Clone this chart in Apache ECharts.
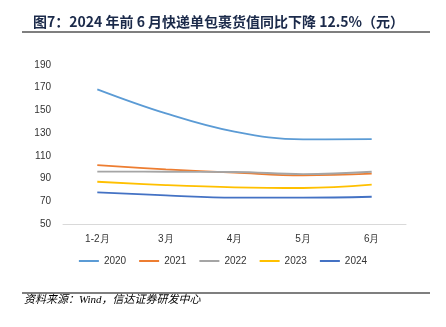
<!DOCTYPE html>
<html><head><meta charset="utf-8">
<script src="https://cdn.jsdelivr.net/npm/echarts@6/dist/echarts.min.js"></script>
<style>html,body{margin:0;padding:0;background:#fff}#c{width:446px;height:327px}</style>
</head><body><div id="c"></div>
<script>
const categories = ['1-2月','3月','4月','5月','6月'];
const yTicks = [50,70,90,110,130,150,170,190];
const s2020 = [168.6,147.4,131.3,124.5,124.8];
const s2021 = [101.9,98.1,95.2,92.8,94.3];
const s2022 = [96.1,96.0,95.8,94.0,96.0];
const s2023 = [87.2,84.3,82.3,81.7,84.6];
const s2024 = [77.9,75.2,73.2,73.2,74.0];
const seriesNames = ['2020','2021','2022','2023','2024'];
const seriesData = [s2020,s2021,s2022,s2023,s2024];
const colors = ['#5B9BD5','#ED7D31','#A5A5A5','#FFC000','#4472C4'];

const chart = echarts.init(document.getElementById('c'));
chart.setOption({
  animation:false,
  title:{text:'图7：2024 年前 6 月快递单包裹货值同比下降 12.5%（元）',left:28,top:10,
    textStyle:{fontSize:14,fontWeight:'bold',color:'#1B2A4A',fontFamily:'Noto Sans CJK SC'}},
  graphic:[
    {type:'line',shape:{x1:22,y1:32,x2:430,y2:32},style:{stroke:'#555',lineWidth:1.5}},
    {type:'line',shape:{x1:22,y1:293,x2:430,y2:293},style:{stroke:'#555',lineWidth:1.5}},
    {type:'text',left:24,top:295,style:{text:'资料来源：Wind，信达证券研发中心',fontSize:11,fontStyle:'italic',fill:'#000',fontFamily:'Liberation Serif, Noto Sans CJK SC'}}
  ],
  legend:{data:seriesNames,bottom:56,left:'center',itemWidth:20,itemHeight:2,itemGap:13,icon:'rect',
    textStyle:{fontSize:10,color:'#333',fontFamily:'Liberation Sans'}},
  grid:{left:63,right:40,top:65,bottom:103},
  xAxis:{type:'category',data:categories,boundaryGap:true,
    axisLine:{lineStyle:{color:'#D9D9D9',width:1}},axisTick:{show:false},
    axisLabel:{fontSize:10,color:'#333',margin:10,fontFamily:'Liberation Sans'}},
  yAxis:{type:'value',min:yTicks[0],max:yTicks[yTicks.length-1],interval:20,
    axisLine:{show:false},axisTick:{show:false},splitLine:{show:false},
    axisLabel:{fontSize:10,color:'#333',margin:12,fontFamily:'Liberation Sans'}},
  series:seriesNames.map((n,i)=>({name:n,type:'line',data:seriesData[i],smooth:0.4,symbol:'none',
    lineStyle:{color:colors[i],width:1.8},itemStyle:{color:colors[i]}}))
});
</script></body></html>
